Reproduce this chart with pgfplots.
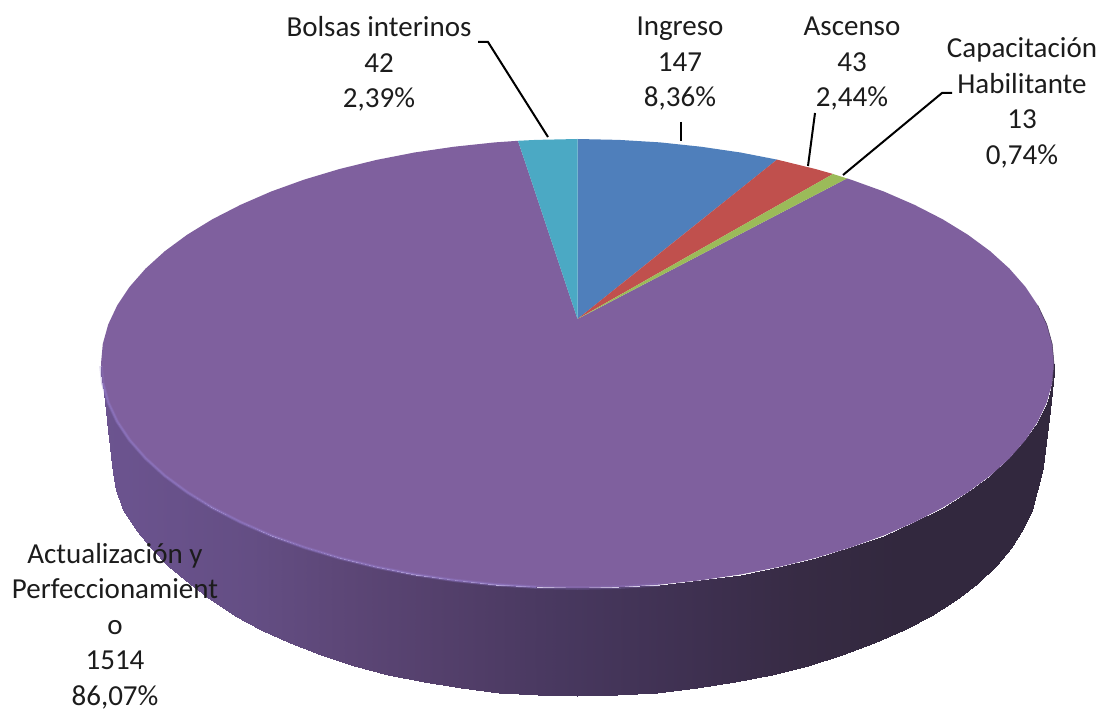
\documentclass[border=0pt]{standalone}
\usepackage{pgfplots}
\pgfplotsset{compat=1.18}
\usepackage{fontspec}
\setmainfont{Carlito}
\definecolor{cblue}{HTML}{4F7FBB}
\definecolor{cred}{HTML}{C0504D}
\definecolor{cgreen}{HTML}{9BBB59}
\definecolor{ccyan}{HTML}{4BA9C4}
\definecolor{cpurple}{HTML}{7F609E}
\definecolor{chigh}{HTML}{9078C4}
\definecolor{ctext}{HTML}{1C1C1C}
\pgfplotsset{colormap={sidemap}{
  rgb255(0pt)=(108,84,144)
  rgb255(149pt)=(100,78,132)
  rgb255(249pt)=(92,70,118)
  rgb255(379pt)=(80,61,103)
  rgb255(459pt)=(72,56,95)
  rgb255(599pt)=(62,48,80)
  rgb255(699pt)=(55,43,68)
  rgb255(799pt)=(50,40,62)
  rgb255(953pt)=(50,40,62)}}
\begin{document}
\begin{tikzpicture}[x=1pt,y=1pt]
\useasboundingbox (0,0) rectangle (1103,711);
\begin{axis}[at={(0,0)},anchor=south west,scale only axis,width=1103pt,height=711pt,
  xmin=0,xmax=1103,ymin=0,ymax=711,y dir=reverse,hide axis,clip=false,
  point meta min=101,point meta max=1054,colormap name=sidemap]
% side of the pie
\addplot[surf,shader=interp,mesh/rows=2,mesh/cols=42,point meta=x] coordinates {
(101.0,363.5)(101.5,373.3)(102.8,383.1)(105.1,392.8)(108.2,402.5)(117.2,421.6)(129.7,440.3)(145.6,458.4)(164.8,475.8)(187.2,492.3)(212.5,507.8)(240.6,522.2)(271.2,535.5)(304.2,547.4)(339.2,557.9)(376.1,567.0)(414.5,574.5)(454.2,580.3)(494.8,584.6)(515.3,586.1)(536.0,587.1)(577.5,588.0)(619.0,587.1)(660.2,584.6)(700.8,580.3)(740.5,574.5)(778.9,567.0)(815.8,557.9)(850.8,547.4)(883.8,535.5)(914.4,522.2)(942.5,507.8)(967.8,492.3)(990.2,475.8)(1009.4,458.4)(1025.3,440.3)(1037.8,421.6)(1046.8,402.5)(1050,392.8)(1052.2,383.1)(1053.5,373.3)(1054.0,363.5)

(101,367)(105,398)(108,430)(113,473)(116,490)(123,510)(137,531)(151,548)(168,566)(189.9,583.5)(210.8,600.1)(234.6,615.6)(260.9,630.1)(289.7,643.4)(320.6,655.3)(353.5,665.9)(388.1,674.9)(424.1,682.4)(461.3,688.3)(499.4,692.6)(538,695.1)(577,696)(617.3,695.1)(657.2,692.6)(696.6,688.3)(735,682.4)(772.2,674.9)(808,665.9)(842,655.3)(874,643.4)(903.7,630.1)(930.9,615.6)(955.5,600.1)(977.1,583.5)(995.7,566.1)(1011.1,548)(1023.2,529.2)(1032,510.1)(1037.2,490.6)(1043,467)(1050,410)(1054,365)
};
% Actualizacion y Perfeccionamiento
\addplot[fill=cpurple,draw=none] coordinates {
(577.5,319)(518,140.8)(494.8,142.4)(454.2,146.7)(414.5,152.5)(376.1,160.0)(339.2,169.1)(304.2,179.6)(271.2,191.5)(240.6,204.8)(212.5,219.2)(187.2,234.7)(164.8,251.2)(145.6,268.6)(129.7,286.7)(117.2,305.4)(108.2,324.5)(102.8,343.9)(101.0,363.5)(102.8,383.1)(108.2,402.5)(117.2,421.6)(129.7,440.3)(145.6,458.4)(164.8,475.8)(187.2,492.3)(212.5,507.8)(240.6,522.2)(271.2,535.5)(304.2,547.4)(339.2,557.9)(376.1,567.0)(414.5,574.5)(454.2,580.3)(494.8,584.6)(536.0,587.1)(577.5,588.0)(619.0,587.1)(660.2,584.6)(700.8,580.3)(740.5,574.5)(778.9,567.0)(815.8,557.9)(850.8,547.4)(883.8,535.5)(914.4,522.2)(942.5,507.8)(967.8,492.3)(990.2,475.8)(1009.4,458.4)(1025.3,440.3)(1037.8,421.6)(1046.8,402.5)(1052.2,383.1)(1054.0,363.5)(1052.2,343.9)(1046.8,324.5)(1037.8,305.4)(1025.3,286.7)(1009.4,268.6)(990.2,251.2)(967.8,234.7)(942.5,219.2)(914.4,204.8)(883.8,191.5)(850.8,179.6)(847,178.4)
} -- cycle;
% Ingreso
\addplot[fill=cblue,draw=none] coordinates {
(577.5,319)(577.5,139.0)(619.0,139.9)(660.2,142.4)(700.8,146.7)(740.5,152.5)(777,159.6)
} -- cycle;
% Ascenso
\addplot[fill=cred,draw=none] coordinates {
(577.5,319)(777,159.6)(815.8,169.1)(833,174)
} -- cycle;
% Capacitacion Habilitante
\addplot[fill=cgreen,draw=none] coordinates {
(577.5,319)(833,174)(847,178.4)
} -- cycle;
% Bolsas interinos
\addplot[fill=ccyan,draw=none] coordinates {
(577.5,319)(518,140.8)(536.0,139.9)(577.5,139.0)
} -- cycle;
% rim highlight
\addplot[draw=chigh,line width=3.5pt,opacity=.3,line join=round] coordinates {
(101,366)(102.8,383.1)(108.2,402.5)(117.2,421.6)(129.7,440.3)(145.6,458.4)(164.8,475.8)(187.2,492.3)(212.5,507.8)(240.6,522.2)(271.2,535.5)(304.2,547.4)(339.2,557.9)(376.1,567.0)(414.5,574.5)(454.2,580.3)(494.8,584.6)(536.0,587.1)(577.5,588.0)(619.0,587.1)(660.2,584.6)
};
\addplot[draw=chigh,line width=1.8pt,opacity=.6,line join=round] coordinates {
(102.8,383.1)(108.2,402.5)(117.2,421.6)(129.7,440.3)(145.6,458.4)(164.8,475.8)(187.2,492.3)(212.5,507.8)(240.6,522.2)(271.2,535.5)(304.2,547.4)(339.2,557.9)(376.1,567.0)(414.5,574.5)(454.2,580.3)(494.8,584.6)(536.0,587.1)
};
\addplot[draw=cpurple!55!black,line width=.5pt,line join=round] coordinates {
(1037.8,305.4)(1046.8,324.5)(1052.2,343.9)(1054.0,363.5)(1052.2,383.1)
};
% leader lines
\addplot[draw=black,line width=2pt] coordinates {(478,42)(488,42)(548,137)};
\addplot[draw=black,line width=2pt] coordinates {(681,122)(681,141)};
\addplot[draw=black,line width=2pt] coordinates {(815,113)(808,166)};
\addplot[draw=black,line width=2pt] coordinates {(952,93)(942,93)(843,175)};
% labels
\tikzset{lab/.style={align=center,inner sep=0pt,text=ctext,font=\fontsize{29}{35.5}\selectfont}}
\node[lab] at (axis cs:379,64) {Bolsas interinos\\42\\2,39\%};
\node[lab] at (axis cs:680,64) {Ingreso\\147\\8,36\%};
\node[lab] at (axis cs:852,64) {Ascenso\\43\\2,44\%};
\node[lab] at (axis cs:1022,103) {Capacitación\\Habilitante\\13\\0,74\%};
\node[lab] at (axis cs:115,626) {Actualización y\\Perfeccionamient\\o\\1514\\86,07\%};
\end{axis}
\end{tikzpicture}
\end{document}
